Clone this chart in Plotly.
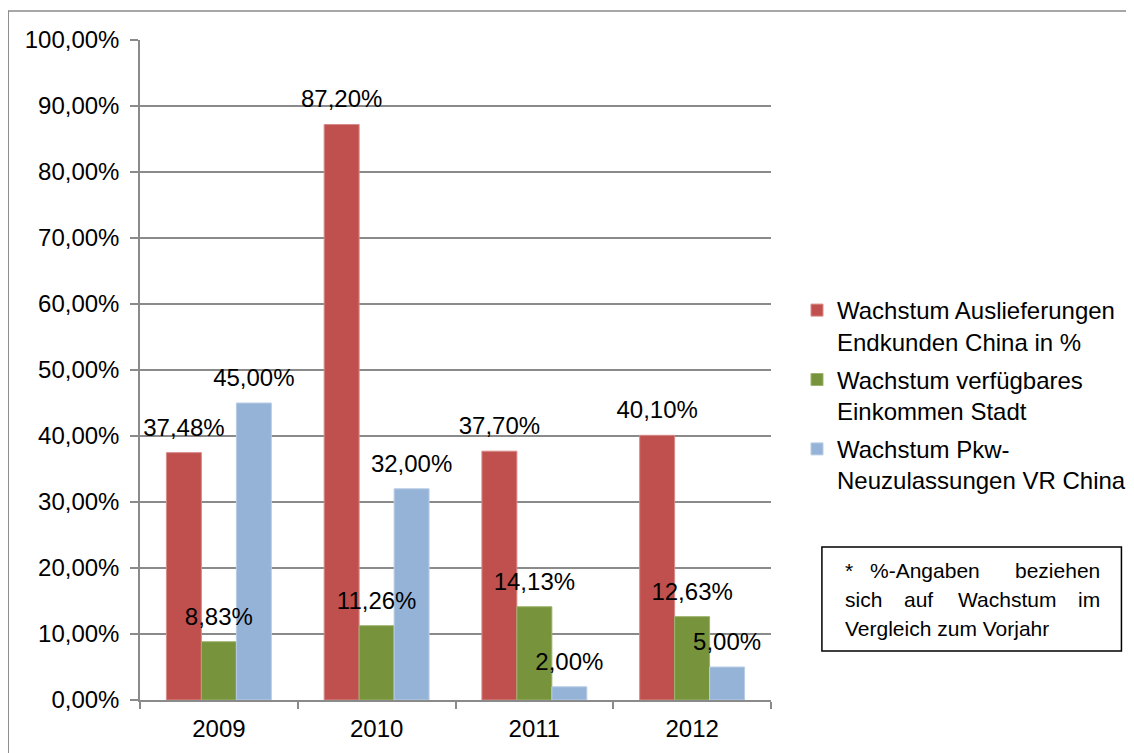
import plotly.graph_objects as go

# Daten
jahre = ['2009', '2010', '2011', '2012']
auslieferungen = [37.48, 87.20, 37.70, 40.10]
einkommen = [8.83, 11.26, 14.13, 12.63]
neuzulassungen = [45.00, 32.00, 2.00, 5.00]

namen = ['Wachstum Auslieferungen<br>Endkunden China in %',
         'Wachstum verfügbares<br>Einkommen Stadt',
         'Wachstum Pkw-<br>Neuzulassungen VR China']
farben = ['#C0504D', '#77933C', '#95B3D7']
rand = ['#D88A88', '#9DB36C', '#B9CDE5']

FONT = 'Liberation Sans, Arial, sans-serif'
# Seite verschiebt die Figur um 8px nach rechts/unten -> Positionen ausgleichen
OFF = 8
W, H = 1134, 753
ML, MT = 140 - OFF, 40 - OFF
MR = W - (772 - OFF)
MB = H - (700 - OFF)
PW, PH = W - ML - MR, H - MT - MB
GAP = 0.335


def px_x(x):
    return (x - OFF - ML) / PW


def px_y(y):
    return (MT + PH - (y - OFF)) / PH


fig = go.Figure()
reihen = [auslieferungen, einkommen, neuzulassungen]
for i, (werte, name, farbe, linie) in enumerate(zip(reihen, namen, farben, rand)):
    fig.add_trace(go.Bar(
        x=jahre, y=werte, name=name, legendgroup=f'g{i}',
        marker=dict(color=farbe, line=dict(color=linie, width=1)),
        hovertemplate='%{x}: %{y:.2f}%<extra></extra>',
    ))

# Datenbeschriftungen als eigene Ebene, damit sie über allen Balken liegen
for i, werte in enumerate(reihen):
    fig.add_trace(go.Scatter(
        x=jahre, y=werte, mode='markers+text', showlegend=False,
        marker=dict(size=16, color='rgba(0,0,0,0)'),
        text=[f'{v:.2f}%'.replace('.', ',') for v in werte],
        textposition='top center',
        textfont=dict(size=24, color='black', family=FONT),
        cliponaxis=False, hoverinfo='skip',
    ))

# Rahmen um das Diagramm (rechts/unten ausserhalb des Bildes)
fig.add_shape(type='rect', xref='paper', yref='paper',
              x0=px_x(8), x1=px_x(1160), y0=px_y(780), y1=px_y(11),
              line=dict(color='#8a8a8a', width=1.5), layer='below')

# Textkasten
fig.add_shape(type='rect', xref='paper', yref='paper',
              x0=px_x(823), x1=px_x(1123), y0=px_y(651), y1=px_y(547),
              line=dict(color='black', width=1.5))

woerter = [
    ('*', 845, 570, 'left'), ('%-Angaben', 926, 570, 'center'), ('beziehen', 1103, 570, 'right'),
    ('sich', 845, 599, 'left'), ('auf', 920, 599, 'center'), ('Wachstum', 1008, 599, 'center'),
    ('im', 1103, 599, 'right'),
    ('Vergleich zum Vorjahr', 845, 628, 'left'),
]
for txt, x, y, anchor in woerter:
    fig.add_annotation(text=txt, x=px_x(x), y=px_y(y), xref='paper', yref='paper',
                       xanchor=anchor, yanchor='middle', showarrow=False, borderpad=0,
                       font=dict(size=21, color='black', family=FONT))

fig.update_layout(
    width=W, height=H,
    margin=dict(l=ML, r=MR, t=MT, b=MB, pad=0),
    paper_bgcolor='white', plot_bgcolor='white',
    separators=',.',
    barmode='group', bargap=GAP, bargroupgap=0,
    scattermode='group', scattergap=GAP,
    font=dict(family=FONT, size=24, color='black'),
    legend=dict(x=px_x(797), y=px_y(288), xanchor='left', yanchor='top',
                font=dict(size=24, family=FONT, color='black'),
                valign='top', tracegroupgap=4, itemwidth=30),
    xaxis=dict(type='category', showline=True, linecolor='#8a8a8a', linewidth=1.5,
               ticks='outside', tickson='boundaries', ticklen=7, tickcolor='#8a8a8a',
               tickwidth=1.5, showgrid=False, automargin=False, ticklabelstandoff=6,
               tickfont=dict(size=24, family=FONT, color='black')),
    yaxis=dict(range=[0, 100], dtick=10, tickformat='.2f', ticksuffix='%',
               showline=True, linecolor='#8a8a8a', linewidth=1.5,
               ticks='outside', ticklen=8, tickcolor='#8a8a8a', tickwidth=1.5,
               showgrid=True, gridcolor='#8a8a8a', gridwidth=1.5,
               zeroline=False, ticklabelstandoff=6, automargin=False,
               tickfont=dict(size=24, family=FONT, color='black')),
)

fig.write_html('out.html')
